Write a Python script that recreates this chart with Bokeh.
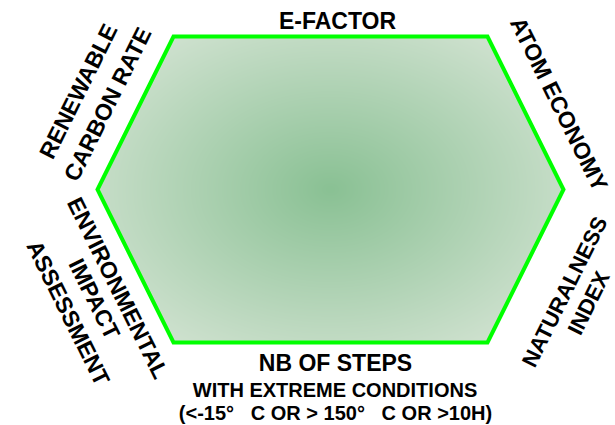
import numpy as np
from bokeh.plotting import figure
from bokeh.models import Range1d, ColumnDataSource
from bokeh.embed import file_html
from bokeh.resources import INLINE
from bokeh.core.properties import value

# ---------------- data ----------------
# one label per hexagon edge, clockwise starting from the top edge
edge_top = ["E-FACTOR"]
edge_upper_right = ["ATOM ECONOMY"]
edge_lower_right = ["NATURALNESS", "INDEX"]
edge_bottom = ["NB OF STEPS", "WITH EXTREME CONDITIONS",
               "(<-15°\u00a0\u00a0\u00a0C OR > 150°\u00a0\u00a0\u00a0C OR >10H)"]
edge_lower_left = ["ENVIRONMENTAL", "IMPACT", "ASSESSMENT"]
edge_upper_left = ["RENEWABLE", "CARBON RATE"]
edge_labels = [edge_top, edge_upper_right, edge_lower_right,
               edge_bottom, edge_lower_left, edge_upper_left]

# ---------------- geometry / style ----------------
cx, cy = 330.0, 189.0          # hexagon centre
hw, ht, hh = 233.0, 157.0, 153.0  # half width, half top edge, half height
vx = np.array([cx - ht, cx + ht, cx + hw, cx + ht, cx - ht, cx - hw])
vy = np.array([cy - hh, cy - hh, cy, cy + hh, cy + hh, cy])

# per line: (outward offset, along-edge offset, font size px)
line_layout = [
    [(15.5, 7, 23)],
    [(34, 7, 23)],
    [(46.5, -5.5, 22), (73, -5, 22)],
    [(20.5, 5, 23), (47, 4.5, 20), (70, 5, 20)],
    [(25.5, 12, 23), (51.5, 11.2, 23), (81, 12, 23)],
    [(61, -5.8, 23), (29, -4.5, 23)],
]

p = figure(width=615, height=425, x_range=Range1d(0, 615), y_range=Range1d(425, 0),
           output_backend="svg", toolbar_location=None, min_border=0,
           x_axis_type=None, y_axis_type=None)
p.grid.visible = False
p.outline_line_color = None
p.background_fill_color = "white"
p.border_fill_color = "white"

# radial gradient fill, masked to the hexagon
x0, x1 = int(cx - hw - 2), int(cx + hw + 3)
y0, y1 = int(cy - hh - 2), int(cy + hh + 3)
xs = np.arange(x0, x1) + 0.5
ys = np.arange(y0, y1) + 0.5
X, Y = np.meshgrid(xs, ys)
dx, dy = X - cx, Y - cy
inside = (np.abs(dy) <= hh) & (np.abs(dx) <= ht + (hw - ht) * (1 - np.abs(dy) / hh))
t = np.clip(np.sqrt((dx / 270.0) ** 2 + (dy / 190.0) ** 2), 0, 1)
c0 = np.array([138, 193, 148], dtype=float)
c1 = np.array([208, 226, 208], dtype=float)
rgb = c0 + (c1 - c0) * t[..., None]
img = np.zeros(X.shape, dtype=np.uint32)
view = img.view(dtype=np.uint8).reshape(X.shape + (4,))
view[..., 0] = rgb[..., 0]
view[..., 1] = rgb[..., 1]
view[..., 2] = rgb[..., 2]
view[..., 3] = np.where(inside, 255, 0)
p.image_rgba(image=[img], x=x0, y=y0, dw=x1 - x0, dh=y1 - y0)

p.patch(vx, vy, fill_color=None, line_color="#00ff00", line_width=4, line_join="miter")

# labels
tx, ty, tt, ta, tf = [], [], [], [], []
for i, lines in enumerate(edge_labels):
    ax, ay = vx[i], vy[i]
    bx, by = vx[(i + 1) % 6], vy[(i + 1) % 6]
    mx, my = (ax + bx) / 2, (ay + by) / 2
    ang = np.arctan2(-(by - ay), bx - ax)
    if ang > np.pi / 2 + 1e-9:
        ang -= np.pi
    if ang <= -np.pi / 2 + 1e-9:
        ang += np.pi
    ux, uy = np.cos(ang), -np.sin(ang)          # reading direction (screen, y down)
    nx, ny = -uy, ux
    if nx * (mx - cx) + ny * (my - cy) < 0:
        nx, ny = -nx, -ny                        # outward normal
    for line, (perp, along, fs) in zip(lines, line_layout[i]):
        tx.append(mx + nx * perp + ux * along)
        ty.append(my + ny * perp + uy * along)
        tt.append(line)
        ta.append(ang)
        tf.append(f"{fs}px")

src = ColumnDataSource(dict(x=tx, y=ty, text=tt, angle=ta, fs=tf))
p.text(x="x", y="y", text="text", angle="angle", source=src,
       text_font=value("Liberation Sans"), text_font_style="bold",
       text_font_size="fs", text_color="black",
       text_align="center", text_baseline="middle")

open("out.html", "w").write(file_html(p, INLINE))
